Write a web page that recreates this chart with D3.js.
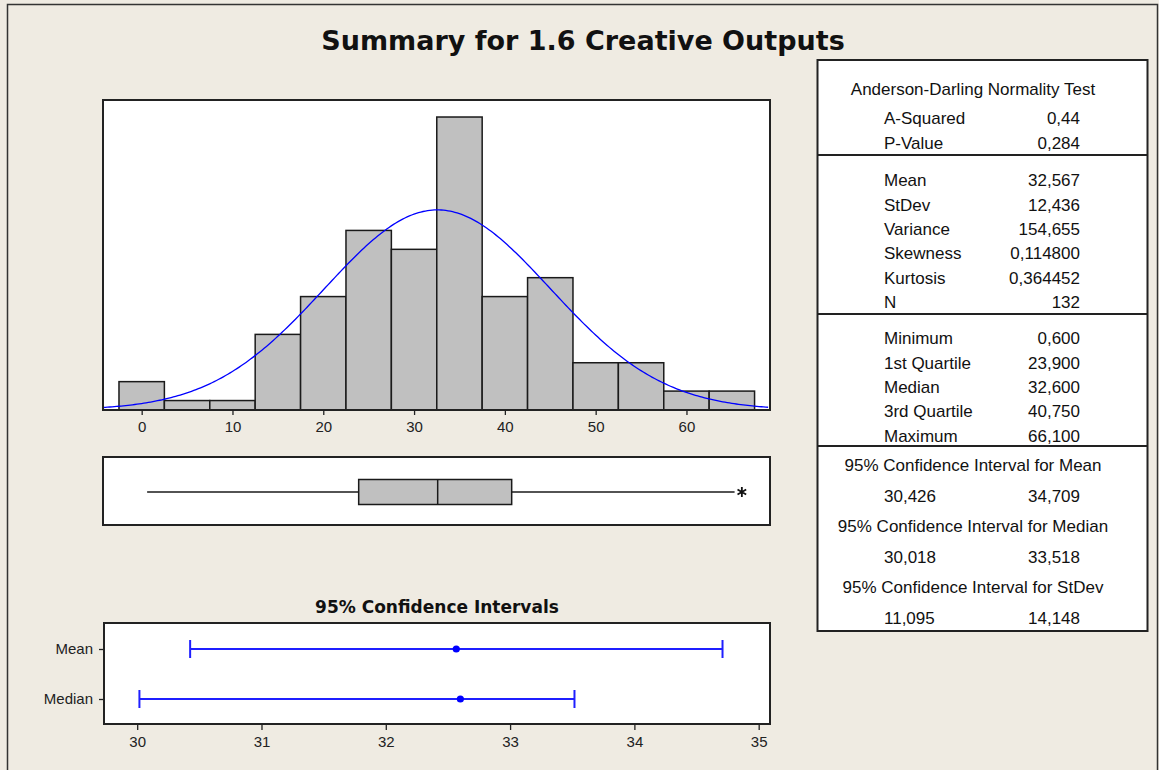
<!DOCTYPE html>
<html>
<head>
<meta charset="utf-8">
<script src="https://cdn.jsdelivr.net/npm/d3@7"></script>
<style>
  body { margin: 0; background: #efebe2; }
  svg { display: block; }
  .tick text { font-family: "Liberation Sans", Arial, sans-serif; font-size: 15px; fill: #222; }
  .tick line { stroke: #222; stroke-width: 1.3; }
  .tbl { font-family: "Liberation Sans", Arial, sans-serif; font-size: 17px; fill: #111; }
</style>
</head>
<body>
<script>
// histogram: bin centres (width 5) and counts
const binCenters = [0, 5, 10, 15, 20, 25, 30, 35, 40, 45, 50, 55, 60, 65];
const binCounts  = [3, 1, 1, 8, 12, 19, 17, 31, 12, 14, 5, 5, 2, 2];
const binWidth = 5;
const histTicks = [0, 10, 20, 30, 40, 50, 60];

// summary statistics
const nObs = 132;
const mean = 32.567, stdev = 12.436;
const boxStats = { min: 0.6, q1: 23.9, median: 32.6, q3: 40.75, max: 66.1 };
const upperWhisker = 65.3;      // largest value inside the fence
const outliers = [66.1];

// confidence intervals
const ciNames  = ["Mean", "Median"];
const ciCenter = [32.567, 32.6];
const ciLow    = [30.426, 30.018];
const ciHigh   = [34.709, 33.518];
const ciTicks  = [30, 31, 32, 33, 34, 35];

// table
const adLabels = ["A-Squared", "P-Value"];
const adValues = ["0,44", "0,284"];
const momLabels = ["Mean", "StDev", "Variance", "Skewness", "Kurtosis", "N"];
const momValues = ["32,567", "12,436", "154,655", "0,114800", "0,364452", "132"];
const qLabels = ["Minimum", "1st Quartile", "Median", "3rd Quartile", "Maximum"];
const qValues = ["0,600", "23,900", "32,600", "40,750", "66,100"];
const ciHeads = ["95% Confidence Interval for Mean", "95% Confidence Interval for Median", "95% Confidence Interval for StDev"];
const ciPairs = [["30,426", "34,709"], ["30,018", "33,518"], ["11,095", "14,148"]];

const W = 1159, H = 770;
const svg = d3.select("body").append("svg").attr("width", W).attr("height", H);

svg.append("rect").attr("width", W).attr("height", H).attr("fill", "#efebe2");
// outer frame
svg.append("rect")
  .attr("x", 7.5).attr("y", 4.5).attr("width", 1150).attr("height", 820)
  .attr("fill", "none").attr("stroke", "#333").attr("stroke-width", 1.5);

svg.append("text")
  .attr("x", 583).attr("y", 50)
  .attr("text-anchor", "middle")
  .style("font-family", "'DejaVu Sans', Verdana, sans-serif")
  .style("font-weight", "bold").style("font-size", "27px").style("fill", "#111")
  .text("Summary for 1.6 Creative Outputs");

// ---------- histogram ----------
const hx = { left: 103, right: 770, top: 100, bottom: 410 };
const x = d3.scaleLinear().domain([-4.26, 69.2]).range([hx.left, hx.right]);
const y = d3.scaleLinear().domain([0, 32.8]).range([hx.bottom, hx.top]);

svg.append("rect")
  .attr("x", hx.left).attr("y", hx.top)
  .attr("width", hx.right - hx.left).attr("height", hx.bottom - hx.top)
  .attr("fill", "white");

svg.append("g").selectAll("rect")
  .data(binCenters)
  .join("rect")
  .attr("x", d => x(d - binWidth / 2))
  .attr("y", (d, i) => y(binCounts[i]))
  .attr("width", d => x(d + binWidth / 2) - x(d - binWidth / 2))
  .attr("height", (d, i) => y(0) - y(binCounts[i]))
  .attr("fill", "#c0c0c0")
  .attr("stroke", "#1a1a1a")
  .attr("stroke-width", 1.5);

// fitted normal curve from mean / stdev
const normal = v => nObs * binWidth / (stdev * Math.sqrt(2 * Math.PI)) *
  Math.exp(-0.5 * Math.pow((v - mean) / stdev, 2));
const curveX = d3.range(x.domain()[0], x.domain()[1] + 0.01, 0.25);
svg.append("path")
  .datum(curveX)
  .attr("d", d3.line().x(d => x(d)).y(d => y(normal(d))))
  .attr("fill", "none")
  .attr("stroke", "#0000ff")
  .attr("stroke-width", 1.3);

svg.append("rect")
  .attr("x", hx.left).attr("y", hx.top)
  .attr("width", hx.right - hx.left).attr("height", hx.bottom - hx.top)
  .attr("fill", "none").attr("stroke", "#222").attr("stroke-width", 2);

svg.append("g")
  .attr("transform", `translate(0,${hx.bottom})`)
  .call(d3.axisBottom(x).tickValues(histTicks).tickSize(5).tickSizeOuter(0).tickPadding(6))
  .call(g => g.select(".domain").remove());

// ---------- box plot ----------
const bp = { top: 457, bottom: 525, mid: 492, half: 12.5 };
svg.append("rect")
  .attr("x", hx.left).attr("y", bp.top)
  .attr("width", hx.right - hx.left).attr("height", bp.bottom - bp.top)
  .attr("fill", "white").attr("stroke", "#222").attr("stroke-width", 2);

const bpG = svg.append("g").attr("stroke", "#1a1a1a").attr("stroke-width", 1.5);
bpG.append("line")
  .attr("x1", x(boxStats.min)).attr("x2", x(boxStats.q1))
  .attr("y1", bp.mid).attr("y2", bp.mid);
bpG.append("line")
  .attr("x1", x(boxStats.q3)).attr("x2", x(upperWhisker))
  .attr("y1", bp.mid).attr("y2", bp.mid);
bpG.append("rect")
  .attr("x", x(boxStats.q1)).attr("y", bp.mid - bp.half)
  .attr("width", x(boxStats.q3) - x(boxStats.q1)).attr("height", bp.half * 2)
  .attr("fill", "#c0c0c0");
bpG.append("line")
  .attr("x1", x(boxStats.median)).attr("x2", x(boxStats.median))
  .attr("y1", bp.mid - bp.half).attr("y2", bp.mid + bp.half);
bpG.selectAll("path.out")
  .data(outliers)
  .join("path")
  .attr("class", "out")
  .attr("transform", d => `translate(${x(d)},${bp.mid})`)
  .attr("d", d3.symbol(d3.symbolAsterisk, 70))
  .attr("fill", "none")
  .attr("stroke", "#111")
  .attr("stroke-width", 1.8);

// ---------- confidence intervals ----------
const ci = { left: 104, right: 770, top: 623, bottom: 724 };
const cx = d3.scaleLinear().domain([29.733, 35.091]).range([ci.left, ci.right]);
const cy = d3.scalePoint().domain(ciNames).range([649, 699]);

svg.append("text")
  .attr("x", (ci.left + ci.right) / 2).attr("y", 613)
  .attr("text-anchor", "middle")
  .style("font-family", "'DejaVu Sans', Verdana, sans-serif")
  .style("font-weight", "bold").style("font-size", "17px").style("fill", "#111")
  .text("95% Confidence Intervals");

svg.append("rect")
  .attr("x", ci.left).attr("y", ci.top)
  .attr("width", ci.right - ci.left).attr("height", ci.bottom - ci.top)
  .attr("fill", "white").attr("stroke", "#222").attr("stroke-width", 2);

svg.append("g")
  .attr("transform", `translate(0,${ci.bottom})`)
  .call(d3.axisBottom(cx).tickValues(ciTicks).tickFormat(d3.format("d")).tickSize(6).tickSizeOuter(0).tickPadding(6))
  .call(g => g.select(".domain").remove());

svg.append("g")
  .attr("transform", `translate(${ci.left},0)`)
  .call(d3.axisLeft(cy).tickSize(5).tickSizeOuter(0).tickPadding(6))
  .call(g => g.select(".domain").remove());

const ciG = svg.append("g").attr("stroke", "#1f1fff").attr("stroke-width", 2);
ciNames.forEach((n, i) => {
  const yy = cy(n);
  ciG.append("line").attr("x1", cx(ciLow[i])).attr("x2", cx(ciHigh[i])).attr("y1", yy).attr("y2", yy);
  ciG.append("line").attr("x1", cx(ciLow[i])).attr("x2", cx(ciLow[i])).attr("y1", yy - 9).attr("y2", yy + 9);
  ciG.append("line").attr("x1", cx(ciHigh[i])).attr("x2", cx(ciHigh[i])).attr("y1", yy - 9).attr("y2", yy + 9);
  svg.append("circle").attr("cx", cx(ciCenter[i])).attr("cy", yy).attr("r", 3.6).attr("fill", "#0000ff");
});

// ---------- statistics table ----------
const tb = { left: 817.5, right: 1147.5, top: 60, bottom: 631 };
svg.append("rect")
  .attr("x", tb.left).attr("y", tb.top)
  .attr("width", tb.right - tb.left).attr("height", tb.bottom - tb.top)
  .attr("fill", "white").attr("stroke", "#222").attr("stroke-width", 2);
[155, 314, 446].forEach(yy =>
  svg.append("line").attr("x1", tb.left).attr("x2", tb.right).attr("y1", yy).attr("y2", yy)
    .attr("stroke", "#222").attr("stroke-width", 2));

const labX = 884, valX = 1080, headX = 973;
function rows(labels, values, y0, step) {
  labels.forEach((l, i) => {
    svg.append("text").attr("class", "tbl").attr("x", labX).attr("y", y0 + i * step).attr("dy", "0.36em").text(l);
    svg.append("text").attr("class", "tbl").attr("x", valX).attr("y", y0 + i * step).attr("dy", "0.36em")
      .attr("text-anchor", "end").text(values[i]);
  });
}
svg.append("text").attr("class", "tbl").attr("x", headX).attr("y", 89).attr("dy", "0.36em")
  .attr("text-anchor", "middle").text("Anderson-Darling Normality Test");
rows(adLabels, adValues, 118, 24.5);
rows(momLabels, momValues, 180, 24.4);
rows(qLabels, qValues, 338, 24.4);
ciHeads.forEach((h, i) => {
  const yy = 465 + i * 61;
  svg.append("text").attr("class", "tbl").attr("x", headX).attr("y", yy).attr("dy", "0.36em")
    .attr("text-anchor", "middle").text(h);
  svg.append("text").attr("class", "tbl").attr("x", labX).attr("y", yy + 31).attr("dy", "0.36em").text(ciPairs[i][0]);
  svg.append("text").attr("class", "tbl").attr("x", valX).attr("y", yy + 31).attr("dy", "0.36em")
    .attr("text-anchor", "end").text(ciPairs[i][1]);
});
</script>
</body>
</html>
